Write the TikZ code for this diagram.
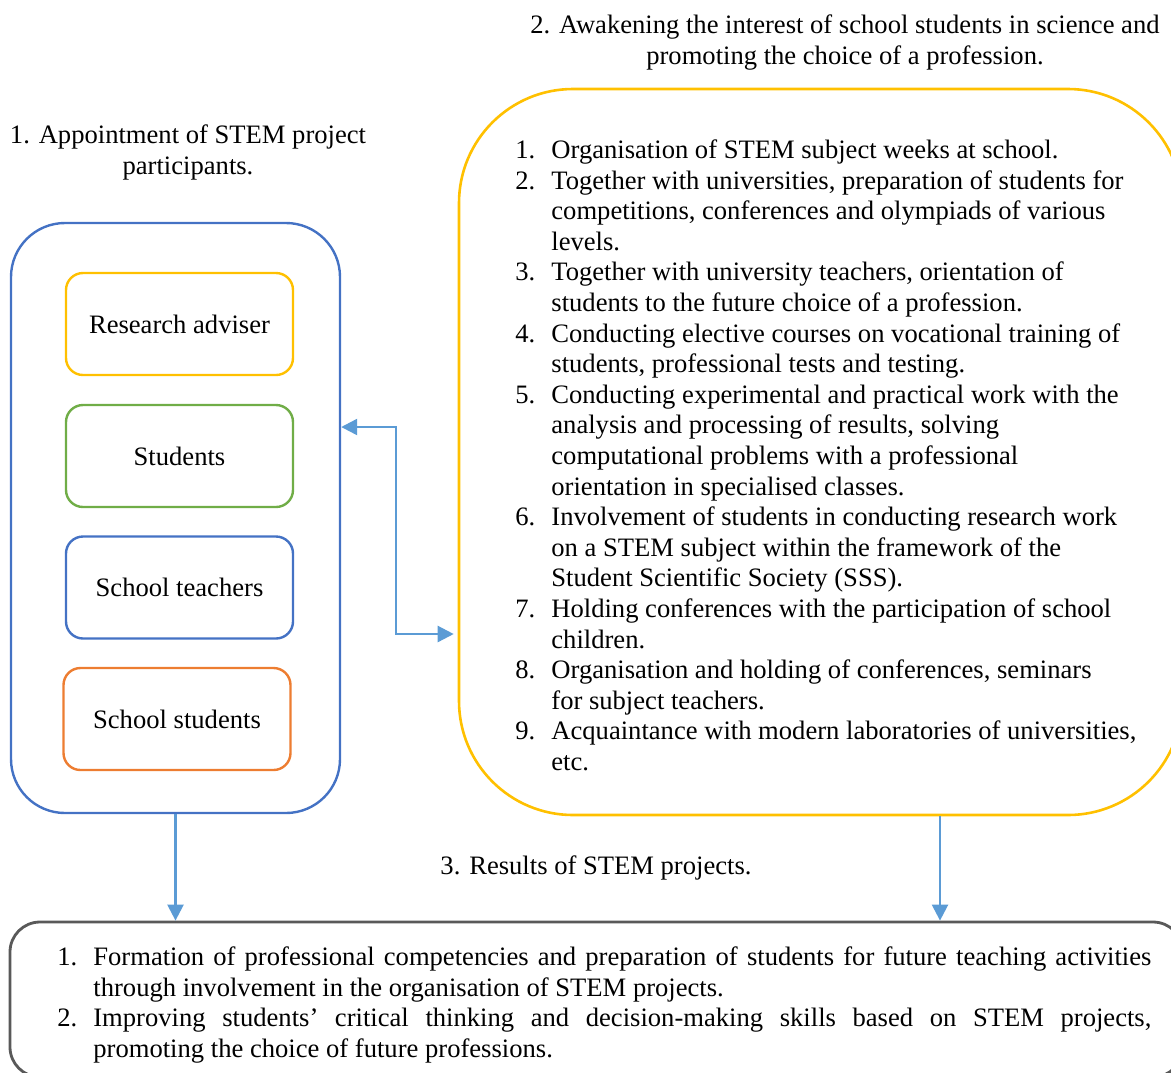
\documentclass[tikz,border=0pt]{standalone}
\usepackage{fontspec}
\setmainfont{Liberation Serif}
\usepackage{tikz}
\usetikzlibrary{arrows.meta}
\definecolor{boxblue}{RGB}{68,114,196}
\definecolor{boxyellow}{RGB}{255,192,0}
\definecolor{boxgreen}{RGB}{112,173,71}
\definecolor{boxorange}{RGB}{237,125,49}
\definecolor{arrowblue}{RGB}{91,155,213}
\definecolor{framegray}{RGB}{89,89,89}
\newcommand{\listfont}{\fontsize{13.3pt}{15.3pt}\selectfont}

\begin{document}
\begin{tikzpicture}[x=0.5pt, y=-0.5pt,
    every node/.style={font=\listfont, inner sep=0pt},
    >={Triangle[length=8pt,width=8pt]},
    member/.style={draw, line width=1.2pt, rounded corners=8.5pt,
        minimum width=113.5pt, minimum height=51pt},
    link/.style={arrowblue, line width=1.2pt}]
\clip (0,0) rectangle (1171,1072);

% headings
\node[anchor=base] (head1) at (188,143.5)
    {\begin{tabular}[t]{@{}c@{}}1. Appointment of STEM project\\participants.\end{tabular}};
\node[anchor=base] (head2) at (845,33.5)
    {\begin{tabular}[t]{@{}c@{}}2. Awakening the interest of school students in science and\\promoting the choice of a profession.\end{tabular}};
\node[anchor=base] (head3) at (596,874.5) {3. Results of STEM projects.};

% participants
\node[draw=boxblue, line width=1.2pt, rounded corners=27pt,
    minimum width=164.5pt, minimum height=295pt] (team) at (175.5,518) {};
\node[member, draw=boxyellow] (adviser) at (179.5,324) {Research adviser};
\node[member, draw=boxgreen] (students) at (179.5,456) {Students};
\node[member, draw=boxblue] (teachers) at (179.5,587.5) {School teachers};
\node[member, draw=boxorange] (pupils) at (177,719) {School students};

% activities
\node[draw=boxyellow, line width=1.3pt, rounded corners=57pt,
    minimum width=361.5pt, minimum height=363pt] (awaken) at (820.5,452) {};
\node[anchor=base west] (tasks) at (515,158.5) {\begin{tabular}[t]{@{}p{18pt}@{}l@{}}
1. & Organisation of STEM subject weeks at school.\\
2. & Together with universities, preparation of students for\\
   & competitions, conferences and olympiads of various\\
   & levels.\\
3. & Together with university teachers, orientation of\\
   & students to the future choice of a profession.\\
4. & Conducting elective courses on vocational training of\\
   & students, professional tests and testing.\\
5. & Conducting experimental and practical work with the\\
   & analysis and processing of results, solving\\
   & computational problems with a professional\\
   & orientation in specialised classes.\\
6. & Involvement of students in conducting research work\\
   & on a STEM subject within the framework of the\\
   & Student Scientific Society (SSS).\\
7. & Holding conferences with the participation of school\\
   & children.\\
8. & Organisation and holding of conferences, seminars\\
   & for subject teachers.\\
9. & Acquaintance with modern laboratories of universities,\\
   & etc.
\end{tabular}};

% results
\node[draw=framegray, line width=1.4pt, rounded corners=15pt,
    minimum width=586.5pt, minimum height=77.5pt] (results) at (596.5,999.5) {};
\node[anchor=base west] (outcomes) at (57,965.5) {\begin{tabular}[t]{@{}p{18pt}@{}l@{}}
1. & \makebox[529pt][s]{Formation of professional competencies and preparation of students for future teaching activities}\\
   & through involvement in the organisation of STEM projects.\\
2. & \makebox[529pt][s]{Improving students’ critical thinking and decision-making skills based on STEM projects,}\\
   & promoting the choice of future professions.
\end{tabular}};

% connectors
\coordinate (bendtop) at (396,427);
\coordinate (bendlow) at (396,634);
\coordinate (drop) at (940,0);
\draw[link, <->, shorten >=2pt] (team.east |- bendtop) -- (bendtop) -- (bendlow) -- (awaken.west |- bendlow);
\draw[link, ->] (team.south) -- (team.south |- results.north);
\draw[link, ->] (awaken.south -| drop) -- (results.north -| drop);
\end{tikzpicture}
\end{document}
